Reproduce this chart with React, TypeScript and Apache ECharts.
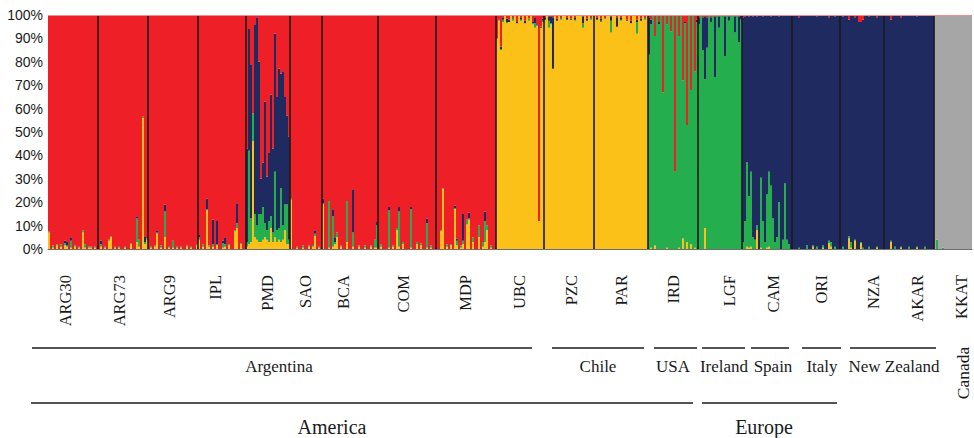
import React, { useEffect, useRef } from "react";
import * as echarts from "echarts";

// ---------- DATA ----------
const populations = ["ARG30", "ARG73", "ARG9", "IPL", "PMD", "SAO", "BCA", "COM", "MDP", "UBC", "PZC", "PAR", "IRD", "LGF", "CAM", "ORI", "NZA", "AKAR", "KKAT"];
const popSizes = [25, 25, 25, 24, 22, 16, 28, 29, 30, 24, 25, 27, 25, 22, 25, 24, 22, 25, 19];
// clusters in stack order, bottom -> top
const clusters = ["Cluster yellow", "Cluster green", "Cluster blue", "Cluster grey", "Cluster red"];
// dominant cluster of each population (index into clusters)
const popMajor = [4, 4, 4, 4, 4, 4, 4, 4, 4, 0, 0, 0, 1, 1, 2, 2, 2, 2, 3];
const yTicks = [0, 10, 20, 30, 40, 50, 60, 70, 80, 90, 100];

// admixed individuals: [population, individual, yellow, green, blue, grey, red] (%)
// the dominant cluster takes the remainder
const admixArgentina = [
  [0, 0, 7, 0.5, 0, 0, 0], [0, 2, 0.5, 1, 0, 0, 0], [0, 4, 1.5, 0.5, 0, 0, 0], [0, 6, 1, 1, 0, 0, 0],
  [0, 8, 1.5, 1, 1, 0, 0], [0, 9, 1, 0.5, 1.5, 0, 0], [0, 11, 0.5, 3, 1.5, 0, 0], [0, 13, 1, 0.5, 0, 0, 0],
  [0, 15, 0.5, 0.5, 0, 0, 0], [0, 17, 7, 1, 0, 0, 0], [0, 18, 0.5, 1.5, 0, 0, 0], [0, 20, 0.5, 0.5, 0, 0, 0],
  [0, 21, 0.5, 0.5, 0, 0, 0], [0, 23, 0.5, 0.5, 0, 0, 0],
  [1, 1, 1, 1, 1.5, 0, 0], [1, 3, 0.5, 0.5, 0, 0, 0], [1, 5, 3.5, 0.5, 0, 0, 0], [1, 6, 5, 0.5, 0, 0, 0],
  [1, 8, 0.5, 0.5, 0, 0, 0], [1, 10, 0.5, 0.5, 0, 0, 0], [1, 13, 0.5, 0.5, 0, 0, 0],
  [1, 16, 2, 0.5, 0, 0, 0], [1, 19, 3, 10, 1, 0, 0], [1, 20, 1, 3, 0, 0, 0], [1, 22, 56, 0.5, 0, 0, 0],
  [1, 23, 2, 1, 2.5, 0, 0], [1, 24, 4, 0.5, 0, 0, 0],
  [2, 1, 0.5, 0.5, 0, 0, 0], [2, 3, 1, 0.5, 0, 0, 0], [2, 4, 6.5, 0.5, 1, 0, 0], [2, 6, 0.5, 1, 0, 0, 0],
  [2, 8, 5, 11, 3, 0, 0], [2, 10, 0.5, 0.5, 0, 0, 0], [2, 12, 0.5, 3, 0, 0, 0], [2, 14, 0.5, 0.5, 0, 0, 0],
  [2, 16, 0.5, 0.5, 0, 0, 0], [2, 19, 1, 0.5, 0, 0, 0], [2, 21, 0.5, 0.5, 0, 0, 0], [2, 24, 1.5, 0.5, 0, 0, 0],
  [3, 0, 4, 1, 1, 0, 0], [3, 2, 1, 1, 0, 0, 0], [3, 4, 16.5, 0.5, 4.5, 0, 0], [3, 5, 1, 0.5, 0, 0, 0],
  [3, 7, 1, 1, 10.5, 0, 0], [3, 9, 1.5, 0.5, 10, 0, 0], [3, 12, 0.5, 2, 1, 0, 0], [3, 13, 1, 1, 3, 0, 0],
  [3, 15, 1.5, 0.5, 0, 0, 0], [3, 18, 7.5, 0.5, 0, 0, 0], [3, 19, 9, 2, 8.5, 0, 0], [3, 21, 2, 0.5, 0, 0, 0],
  [4, 0, 1, 2, 40, 0, 0], [4, 1, 2, 40, 52, 0, 0], [4, 2, 3, 10, 66, 0, 0], [4, 3, 46, 12, 0, 0, 0],
  [4, 4, 5, 10, 81, 0, 0], [4, 5, 4, 6, 89, 0, 0], [4, 6, 3, 12, 65, 0, 0], [4, 7, 3, 12, 15, 0, 0],
  [4, 8, 4, 14, 19, 0, 0], [4, 9, 5, 6, 52, 0, 0], [4, 10, 4, 4, 23, 0, 0], [4, 11, 3, 9, 29, 0, 0],
  [4, 12, 9, 5, 52, 0, 0], [4, 13, 3, 4, 36, 0, 0], [4, 14, 5, 28, 59, 0, 0], [4, 15, 3, 5, 57, 0, 0],
  [4, 16, 4, 5, 68, 0, 0], [4, 17, 3, 23, 49, 0, 0], [4, 18, 4, 6, 66, 0, 0], [4, 19, 8, 11, 46, 0, 0],
  [4, 20, 2, 17, 38, 0, 0], [4, 21, 2, 2, 44, 0, 0],
  [5, 0, 21, 0.5, 0, 0, 0], [5, 3, 0.5, 0.5, 0, 0, 0], [5, 6, 0.5, 1, 0, 0, 0], [5, 9, 1, 0.5, 0, 0, 0],
  [5, 11, 1, 0.5, 0.5, 0, 0], [5, 12, 5.5, 1, 1.5, 0, 0], [5, 14, 0.5, 0.5, 0, 0, 0],
  [6, 0, 19, 0.5, 2, 0, 0], [6, 3, 0.5, 20, 0, 0, 0], [6, 5, 1, 13, 3, 0, 0], [6, 6, 2, 1, 2, 0, 0],
  [6, 7, 5, 2, 0, 0, 0], [6, 9, 1, 0.5, 0, 0, 0], [6, 12, 3, 17.5, 0, 0, 0], [6, 15, 1, 6, 18.5, 0, 0],
  [6, 18, 1, 0.5, 0, 0, 0], [6, 21, 0.5, 1, 0, 0, 0], [6, 24, 1, 0.5, 0, 0, 0], [6, 26, 0.5, 3.5, 0, 0, 0],
  [6, 27, 0.5, 9.5, 1.5, 0, 0],
  [7, 1, 1, 1, 0, 0, 0], [7, 5, 0.5, 16, 1.5, 0, 0], [7, 7, 1, 0.5, 0, 0, 0], [7, 9, 8, 1, 0, 0, 0],
  [7, 10, 1, 15, 2, 0, 0], [7, 12, 2, 1, 0, 0, 0], [7, 16, 0.5, 16.5, 1, 0, 0], [7, 19, 2, 1, 0, 0, 0],
  [7, 21, 1.5, 1, 0, 0, 0], [7, 24, 0.5, 10.5, 2, 0, 0], [7, 26, 0.5, 1, 0, 0, 0],
  [8, 2, 7.5, 0.5, 0, 0, 0], [8, 3, 25.5, 0.5, 0, 0, 0], [8, 5, 1, 1, 0, 0, 0], [8, 7, 1.5, 0.5, 0, 0, 0],
  [8, 9, 17, 0.5, 1, 0, 0], [8, 10, 1.5, 2, 1, 0, 0], [8, 12, 0.5, 1, 0, 0, 0], [8, 13, 2, 1.5, 11.5, 0, 0],
  [8, 15, 10.5, 2, 0, 0, 0], [8, 16, 12.5, 0.5, 2.5, 0, 0], [8, 18, 3, 2, 0, 0, 0], [8, 21, 5, 5, 0, 0, 0],
  [8, 23, 1, 2, 0, 0, 0], [8, 24, 3, 9, 4, 0, 0], [8, 25, 8, 2, 0, 0, 0], [8, 27, 0.5, 1, 0, 0, 0],
];
const admixChile = [
  [9, 0, 0, 0, 0, 0, 10], [9, 1, 0, 0.5, 0, 0, 2], [9, 2, 0, 0.5, 1, 0, 13.5], [9, 3, 0, 1, 1, 0, 1],
  [9, 5, 0, 0.5, 1.5, 0, 1.5], [9, 6, 0, 0, 1, 0, 2], [9, 8, 0, 1, 0.5, 0, 1], [9, 10, 0, 0, 0.5, 0, 3],
  [9, 12, 0, 0.5, 1, 0, 1], [9, 14, 0, 0, 1, 0, 2.5], [9, 16, 0, 1, 0, 0, 1.5], [9, 18, 0, 0.5, 0.5, 0, 3],
  [9, 19, 0, 2, 2.5, 0, 1], [9, 20, 0, 0, 0.5, 0, 4], [9, 21, 0, 0, 0, 0, 88], [9, 22, 0, 0, 0.5, 0, 5],
  [9, 23, 0, 0.5, 1, 0, 1.5],
  [10, 0, 0, 0, 1, 0, 1], [10, 2, 0, 3, 2, 0, 0.5], [10, 3, 0, 0.5, 3, 0, 0.5], [10, 4, 0, 0, 22, 0, 1],
  [10, 6, 0, 0, 1, 0, 1.5], [10, 8, 0, 0.5, 0.5, 0, 1], [10, 11, 0, 0, 1, 0, 1], [10, 13, 0, 0, 0.5, 0, 1.5],
  [10, 15, 0, 0.5, 1, 0, 1], [10, 19, 0, 2, 3, 0, 0.5], [10, 21, 0, 0, 1, 0, 1.5], [10, 23, 0, 0.5, 0.5, 0, 1],
  [11, 1, 0, 0, 1, 0, 1], [11, 3, 0, 0.5, 1, 0, 1.5], [11, 5, 0, 0, 0.5, 0, 1], [11, 8, 0, 5, 2, 0, 0.5],
  [11, 11, 0, 0, 4, 0, 1], [11, 13, 0, 0.5, 1, 0, 1], [11, 16, 0, 0, 0.5, 0, 2], [11, 18, 0, 0, 1, 0, 2.5],
  [11, 21, 0, 5, 1, 0, 2], [11, 23, 0, 0, 1, 0, 1.5], [11, 25, 0, 0.5, 0.5, 0, 1],
];
const admixUsaIreland = [
  [12, 0, 0, 0, 16, 0, 1], [12, 1, 0.5, 0, 2, 0, 2], [12, 3, 1.5, 0, 0, 0, 9], [12, 5, 0, 0, 1, 0, 3],
  [12, 7, 0, 0, 0, 0, 33], [12, 9, 0.5, 0, 0, 0, 4], [12, 11, 0, 0, 0, 0, 7], [12, 13, 0, 0, 0, 0, 67],
  [12, 15, 0.5, 0, 0, 0, 9], [12, 17, 4.5, 0, 0, 0, 28], [12, 18, 0, 0, 0.5, 0, 3], [12, 19, 3, 0, 0, 0, 47],
  [12, 21, 2, 0, 0, 0, 32], [12, 23, 0.5, 0, 0, 0, 24], [12, 24, 0, 0, 1, 0, 2],
  [13, 0, 0, 0, 3, 0, 1], [13, 2, 0, 0, 14, 0, 1], [13, 3, 9, 0, 27, 0, 0.5], [13, 4, 0, 0, 13, 0, 1],
  [13, 6, 0, 0, 2, 0, 1], [13, 8, 0, 0, 26, 0, 0.5], [13, 10, 0, 0, 5, 0, 0.5], [13, 13, 0, 0, 17, 0, 0.5],
  [13, 15, 0, 0, 2, 0, 0.5], [13, 18, 0, 0, 7, 0, 0.5], [13, 20, 0, 0, 11, 0, 0.5], [13, 21, 0, 0, 2, 0, 0],
];
const admixBlue = [
  [14, 0, 0, 3, 0, 0, 1], [14, 1, 0, 12, 0, 0, 0.5], [14, 2, 1, 36, 0, 0, 0], [14, 3, 0.5, 22, 0, 0, 0.5],
  [14, 4, 1, 32, 0, 0, 0], [14, 5, 0, 5, 0, 0, 0.5], [14, 6, 0, 4, 0, 0, 0], [14, 7, 8, 2, 0, 0, 0.5],
  [14, 9, 0.5, 30, 0, 0, 0], [14, 10, 0, 12, 0, 0, 0.5], [14, 11, 0, 3, 0, 0, 0], [14, 12, 0.5, 23, 0, 0, 0],
  [14, 13, 1, 32, 0, 0, 0], [14, 14, 0, 27, 0, 0, 0.5], [14, 15, 0, 13, 0, 0, 0], [14, 16, 0, 3, 0, 0, 0],
  [14, 17, 0, 5, 0, 0, 0], [14, 18, 0, 20, 0, 0, 0.5], [14, 20, 0, 4, 0, 0, 0], [14, 21, 0, 28, 0, 0, 0],
  [14, 22, 0, 4, 0, 0, 0], [14, 23, 0, 2, 0, 0, 0],
  [15, 3, 0, 0.5, 0, 0, 1], [15, 7, 0, 1.5, 0, 0, 0], [15, 10, 1, 0.5, 0, 0, 0], [15, 12, 0, 1, 0, 0, 0.5],
  [15, 15, 0.5, 1, 0, 0, 0], [15, 18, 2.5, 1, 0, 0, 1], [15, 19, 1, 2, 0, 0, 0], [15, 21, 0, 1, 0, 0, 0.5],
  [16, 1, 0, 1, 0, 0, 0.5], [16, 4, 4.5, 1, 0, 0, 2], [16, 5, 0.5, 2.5, 0, 0, 0], [16, 7, 3.5, 0.5, 0, 0, 1],
  [16, 9, 0, 0, 0, 0, 3], [16, 10, 2.5, 0.5, 0, 0, 3], [16, 11, 0, 0.5, 0, 0, 2], [16, 14, 0, 1, 0, 0, 0.5],
  [16, 18, 0.5, 0.5, 0, 0, 1],
  [17, 3, 3, 0.5, 0, 0, 2], [17, 5, 0, 1, 0, 0, 0], [17, 8, 0.5, 0.5, 0, 0, 1], [17, 12, 0, 1, 0, 0, 0],
  [17, 16, 0.5, 0.5, 0, 0, 0.5], [17, 20, 0, 1, 0, 0, 0],
];
const admixCanada = [
  [18, 1, 0, 4, 0, 0, 0], [18, 4, 0, 0.5, 0, 0, 0],
];

// ---------- LAYOUT / STYLE ----------
const clusterColors = ["#FCC118", "#25AE4D", "#1F2A60", "#A6A6A6", "#EE1F26"];
const labelPick = [8, 10, 10, 8, 10, 7, 10, 12, 14, 11, 13, 13, 12, 15, 15, 14, 16, 16, 13];
const SERIF = '"Liberation Serif", "Times New Roman", serif';

function buildData() {
  const names: string[] = [];
  const values: number[][] = clusters.map(() => []);
  const admix = [...admixArgentina, ...admixChile, ...admixUsaIreland, ...admixBlue, ...admixCanada];
  const lookup = new Map<string, number[]>();
  admix.forEach((a) => lookup.set(a[0] + "-" + a[1], a.slice(2)));
  const boundaries: number[] = [];
  const labelIdx = new Set<number>();
  let n = 0;
  populations.forEach((pop, p) => {
    for (let i = 0; i < popSizes[p]; i++) {
      names.push(pop + "-" + i);
      if (i === labelPick[p]) labelIdx.add(n);
      const a = lookup.get(p + "-" + i);
      const row = clusters.map((_, c) => (a && c !== popMajor[p] ? a[c] : 0));
      const rest = row.reduce((s, v) => s + v, 0);
      row[popMajor[p]] = 100 - rest;
      row.forEach((v, c) => values[c].push(v));
      n++;
    }
    if (p < populations.length - 1) boundaries.push(n);
  });
  return { names, values, boundaries, labelIdx, total: n };
}

function txt(text: string, x: number, y: number, size: number, rotation = 0) {
  return {
    type: "text",
    x,
    y,
    rotation,
    silent: true,
    style: {
      text,
      x: 0,
      y: 0,
      fill: "#1a1a1a",
      font: `${size}px ${SERIF}`,
      align: "center",
      verticalAlign: "middle",
      textAlign: "center",
      textVerticalAlign: "middle",
    },
  };
}
function hline(x1: number, x2: number, y: number) {
  return {
    type: "line",
    silent: true,
    shape: { x1, y1: y, x2, y2: y },
    style: { stroke: "#1a1a1a", lineWidth: 1.3 },
  };
}

export default function App() {
  const ref = useRef<HTMLDivElement>(null);
  useEffect(() => {
    if (!ref.current) return;
    const chart = echarts.init(ref.current, null, { renderer: "svg" });
    const { names, values, boundaries, labelIdx, total } = buildData();
    const option: any = {
      animation: false,
      backgroundColor: "#ffffff",
      grid: { left: 48, right: 2, top: 15, bottom: 189 },
      xAxis: [
        {
          type: "category",
          data: names,
          axisTick: { show: false },
          axisLine: { show: true, lineStyle: { color: "#6e6e6e", width: 1 } },
          axisLabel: {
            interval: (index: number) => labelIdx.has(index),
            formatter: (v: string) => v.split("-")[0],
            rotate: 90,
            margin: 26,
            fontFamily: SERIF,
            fontSize: 16.5,
            color: "#1a1a1a",
          },
          splitLine: { show: false },
        },
        { type: "value", min: 0, max: total, show: false },
      ],
      yAxis: {
        type: "value",
        min: 0,
        max: 100,
        interval: 10,
        axisLine: { show: false },
        axisTick: { show: false },
        splitLine: { show: false },
        axisLabel: {
          formatter: (v: number) => (yTicks.includes(v) ? v + "%" : ""),
          fontFamily: '"Liberation Sans", Arial, sans-serif',
          fontSize: 14,
          color: "#1a1a1a",
          margin: 5,
        },
      },
      series: [
        ...clusters.map((c, ci) => ({
          name: c,
          type: "bar",
          stack: "q",
          barCategoryGap: "0%",
          xAxisIndex: 0,
          data: values[ci],
          itemStyle: { color: clusterColors[ci] },
          silent: true,
        })),
        {
          type: "line",
          xAxisIndex: 1,
          data: [[0, 0]],
          symbol: "none",
          lineStyle: { opacity: 0 },
          silent: true,
          markLine: {
            silent: true,
            symbol: ["none", "none"],
            label: { show: false },
            data: [
              ...boundaries.map((b) => ({ xAxis: b, lineStyle: { color: "#1a1a1a", width: 1.6, type: "solid" } })),
              { yAxis: 100, lineStyle: { color: "#F08C8C", width: 1, type: "solid" } },
            ],
          },
        },
      ],
      graphic: [
        hline(32, 532, 348),
        hline(552, 644, 348),
        hline(654, 697, 348),
        hline(702, 745, 348),
        hline(751, 789, 348),
        hline(802, 841, 348),
        hline(850, 936, 348),
        hline(31, 693, 403),
        hline(702, 837, 403),
        txt("Argentina", 279, 366, 17),
        txt("Chile", 598, 366, 17),
        txt("USA", 673, 366, 17),
        txt("Ireland", 724, 366, 17),
        txt("Spain", 773, 366, 17),
        txt("Italy", 822, 366, 17),
        txt("New Zealand", 894, 366, 17),
        txt("Canada", 963, 373, 17.5, Math.PI / 2),
        txt("America", 332, 427, 20),
        txt("Europe", 764, 427, 20),
      ],
    };
    chart.setOption(option);
    return () => chart.dispose();
  }, []);
  return (
    <div
      ref={ref}
      style={{ position: "fixed", left: 0, top: 0, width: 974, height: 438, background: "#fff" }}
    />
  );
}
